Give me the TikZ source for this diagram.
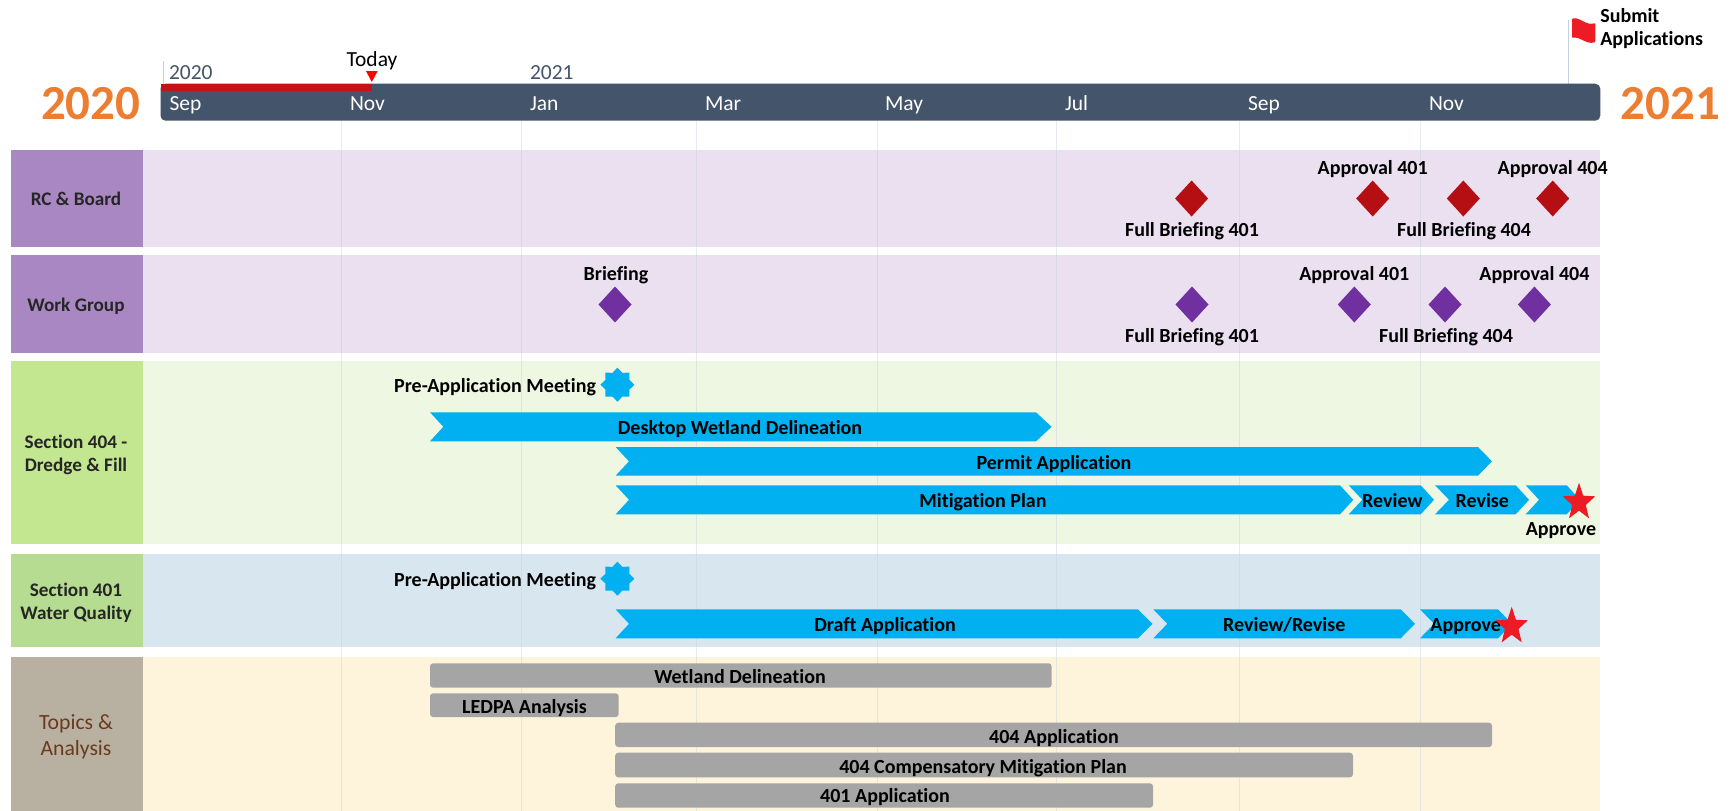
\documentclass[tikz,border=0pt]{standalone}
\usepackage{fontspec}
\setmainfont[Ligatures=NoCommon]{Carlito}
\usetikzlibrary{shapes.geometric}
\definecolor{barc}{HTML}{44546A}
\definecolor{blu}{HTML}{00B0F0}
\definecolor{gry}{HTML}{A5A5A5}
\definecolor{org}{HTML}{ED7D31}
\definecolor{rd}{HTML}{ED1C24}
\definecolor{rdbar}{HTML}{C8101A}
\definecolor{dred}{HTML}{B50F14}
\definecolor{dpur}{HTML}{7030A0}
\definecolor{lpur}{HTML}{A987C3}
\definecolor{bpur}{HTML}{EAE0EF}
\definecolor{lgrn}{HTML}{C3E690}
\definecolor{bgrn}{HTML}{EEF7E2}
\definecolor{lgr2}{HTML}{B5DC90}
\definecolor{bblu}{HTML}{D8E6F0}
\definecolor{ltan}{HTML}{B8B0A0}
\definecolor{bcrm}{HTML}{FEF4DB}
\definecolor{brn}{HTML}{6B3A1E}
\definecolor{grid}{HTML}{C5CFE0}
\tikzset{
  every node/.style={inner sep=0pt,outer sep=0pt,font=\fontsize{20}{24}\selectfont,text height=16pt,text depth=3.6pt},
  itemtxt/.style={font=\fontsize{20}{24}\selectfont\bfseries,text=black},
  rowlabel/.style={font=\fontsize{19.2}{23}\selectfont\bfseries,text=black!85,align=center,text height=,text depth=},
  toplabel/.style={font=\fontsize{21.7}{26}\selectfont,text=brn,align=center,text height=,text depth=},
  month/.style={font=\fontsize{21.5}{24}\selectfont,text=white,anchor=west},
  yeartxt/.style={font=\fontsize{21.5}{24}\selectfont,text=barc,anchor=west},
  bigyear/.style={font=\fontsize{49}{54}\selectfont\bfseries,text=org,text height=,text depth=},
  gridline/.style={draw=grid,line width=1pt,opacity=.42},
  chev/.style={fill=blu},
  graybar/.style={fill=gry,rounded corners=3pt},
  burst/.style={star,star points=8,star point ratio=1.32,fill=blu,minimum size=34pt,text height=,text depth=},
  dia/.style={diamond,minimum width=33pt,minimum height=36pt,text height=,text depth=},
  milestone/.style={fill=rd},
}
\newcommand\chevron[6]{% left notch shoulder tip top bottom
  \fill[chev] (#1,#5) -- (#3,#5) -- (#4,{(#5+#6)/2}) -- (#3,#6) -- (#1,#6) -- (#2,{(#5+#6)/2}) -- cycle;
}
\newcommand\fivestar[2]{%
  \begin{scope}[shift={(#1,#2)},x=17pt,y=-19.7pt]
  \fill[milestone] (0,-1) -- (.247,-.34) -- (.951,-.309) -- (.4,.13) -- (.588,.809) -- (0,.42) -- (-.588,.809) -- (-.4,.13) -- (-.951,-.309) -- (-.247,-.34) -- cycle;
  \end{scope}
}
\begin{document}
\begin{tikzpicture}[x=1pt,y=-1pt]
\useasboundingbox (0,0) rectangle (1732,811);
\fill[white] (0,0) rectangle (1732,811);
% row backgrounds
\fill[bpur] (142.5,149.7) rectangle (1600.3,247);
\fill[lpur] (10.7,149.7) rectangle (142.5,247);
\fill[bpur] (142.5,255.3) rectangle (1600.3,352.6);
\fill[lpur] (10.7,255.3) rectangle (142.5,352.6);
\fill[bgrn] (142.5,361.3) rectangle (1600.3,544.3);
\fill[lgrn] (10.7,361.3) rectangle (142.5,544.3);
\fill[bblu] (142.5,554.3) rectangle (1600.3,647.3);
\fill[lgr2] (10.7,554.3) rectangle (142.5,647.3);
\fill[bcrm] (142.5,657.3) rectangle (1600.3,811);
\fill[ltan] (10.7,657.3) rectangle (142.5,811);
% grid lines
\foreach \gx in {341,521,696,877,1056,1239,1420}
  \draw[gridline] (\gx,121) -- (\gx,811);
% row labels
\node[rowlabel] (lrc) at (76,199) {RC \& Board};
\node[rowlabel] (lwg) at (76,306) {Work Group};
\node[rowlabel] (l404) at (76,455) {Section 404 -\\Dredge \& Fill};
\node[rowlabel] (l401) at (76,603) {Section 401\\Water Quality};
\node[toplabel] (ltp) at (76,736.5) {Topics \&\\Analysis};
% timeline
\draw[gridline,opacity=1] (163.7,61) -- (163.7,84);
\draw[gridline,opacity=1] (1568.3,20) -- (1568.3,84);
\fill[barc,rounded corners=5pt] (160.5,83.7) rectangle (1600.3,120.7);
\fill[rdbar] (160.5,83.7) rectangle (371.7,90.7);
\fill[red] (366,71) -- (377.6,71) -- (371.8,82) -- cycle;
\node[font=\fontsize{21.5}{24}\selectfont] (today) at (372,60) {Today};
\node[yeartxt] (y20) at (169,73.5) {2020};
\node[yeartxt] (y21) at (530,73.5) {2021};
\node[bigyear] (big20) at (90.7,104) {2020};
\node[bigyear] (big21) at (1670.2,104) {2021};
\node[month] (m1) at (169.5,104) {Sep};
\node[month] (m2) at (350,104) {Nov};
\node[month] (m3) at (530,104) {Jan};
\node[month] (m4) at (705,104) {Mar};
\node[month] (m5) at (885,104) {May};
\node[month] (m6) at (1065,104) {Jul};
\node[month] (m7) at (1248,104) {Sep};
\node[month] (m8) at (1429,104) {Nov};
% flag
\fill[rd,rounded corners=1pt] (1572,18.5) .. controls (1580,17) and (1586,26) .. (1595.4,23) -- (1595.4,42) .. controls (1586,45) and (1580,36) .. (1572,38) -- cycle;
\node[itemtxt,anchor=west] (sub1) at (1600.3,16.2) {Submit};
\node[itemtxt,anchor=west] (sub2) at (1600.3,39) {Applications};
% RC & Board
\foreach \i/\dx in {a/1191.6,b/1372.7,c/1463.3,d/1552.7}
  \node[dia,fill=dred] (rc\i) at (\dx,198.5) {};
\node[itemtxt] (t1) at (1192,230) {Full Briefing 401};
\node[itemtxt] (t2) at (1372.7,168) {Approval 401};
\node[itemtxt] (t3) at (1464,230) {Full Briefing 404};
\node[itemtxt] (t4) at (1552.7,168) {Approval 404};
% Work Group
\foreach \i/\dx in {a/615,b/1192,c/1354.3,d/1445,e/1534.4}
  \node[dia,fill=dpur] (wg\i) at (\dx,304.5) {};
\node[itemtxt] (t5) at (616,274) {Briefing};
\node[itemtxt] (t6) at (1192,336) {Full Briefing 401};
\node[itemtxt] (t7) at (1354.3,274) {Approval 401};
\node[itemtxt] (t8) at (1446,336) {Full Briefing 404};
\node[itemtxt] (t9) at (1534.4,274) {Approval 404};
% Section 404
\node[burst] (b1) at (617.4,384.7) {};
\node[itemtxt,anchor=east] (t10) at (596,386) {Pre-Application Meeting};
\chevron{430}{443.3}{1036}{1051.6}{412.3}{441.3}
\node[itemtxt] (t11) at (740,428.5) {Desktop Wetland Delineation};
\chevron{615.6}{629}{1478}{1492}{447}{475.7}
\node[itemtxt] (t12) at (1054,463) {Permit Application};
\chevron{615.6}{629}{1340}{1353.3}{485.3}{514.3}
\node[itemtxt] (t13) at (983,501) {Mitigation Plan};
\chevron{1348.7}{1362.3}{1420.7}{1434}{485.3}{514.3}
\node[itemtxt] (t14) at (1392.3,501) {Review};
\chevron{1435}{1449}{1515.7}{1529}{485.3}{514.3}
\node[itemtxt] (t15) at (1482.3,501) {Revise};
\chevron{1525.7}{1539}{1566.7}{1580}{485.3}{514.3}
\fivestar{1579}{502.4}
\node[itemtxt] (t16) at (1561,529.3) {Approve};
% Section 401
\node[burst] (b2) at (617.4,578.7) {};
\node[itemtxt,anchor=east] (t17) at (596,580) {Pre-Application Meeting};
\chevron{615.6}{629}{1138}{1152.5}{609.3}{638.3}
\node[itemtxt] (t18) at (885,625.5) {Draft Application};
\chevron{1153.3}{1167.3}{1400.7}{1415}{609.3}{638.3}
\node[itemtxt] (t19) at (1284.3,625.5) {Review/Revise};
\chevron{1420}{1434}{1498}{1512}{609.3}{638.3}
\node[itemtxt] (t20) at (1465.7,625.5) {Approve};
\fivestar{1511.7}{626.4}
% Topics
\fill[graybar] (430,663.3) rectangle (1051.6,687.7);
\node[itemtxt] (t21) at (740,677) {Wetland Delineation};
\fill[graybar] (430,693.3) rectangle (618.7,717);
\node[itemtxt] (t22) at (524.5,707) {LEDPA Analysis};
\fill[graybar] (615.2,722.7) rectangle (1492,747);
\node[itemtxt] (t23) at (1054,737) {404 Application};
\fill[graybar] (615.2,752.7) rectangle (1353,777.3);
\node[itemtxt] (t24) at (983,767) {404 Compensatory Mitigation Plan};
\fill[graybar] (615.2,783.3) rectangle (1153,807.7);
\node[itemtxt] (t25) at (885,796.5) {401 Application};
\end{tikzpicture}
\end{document}
